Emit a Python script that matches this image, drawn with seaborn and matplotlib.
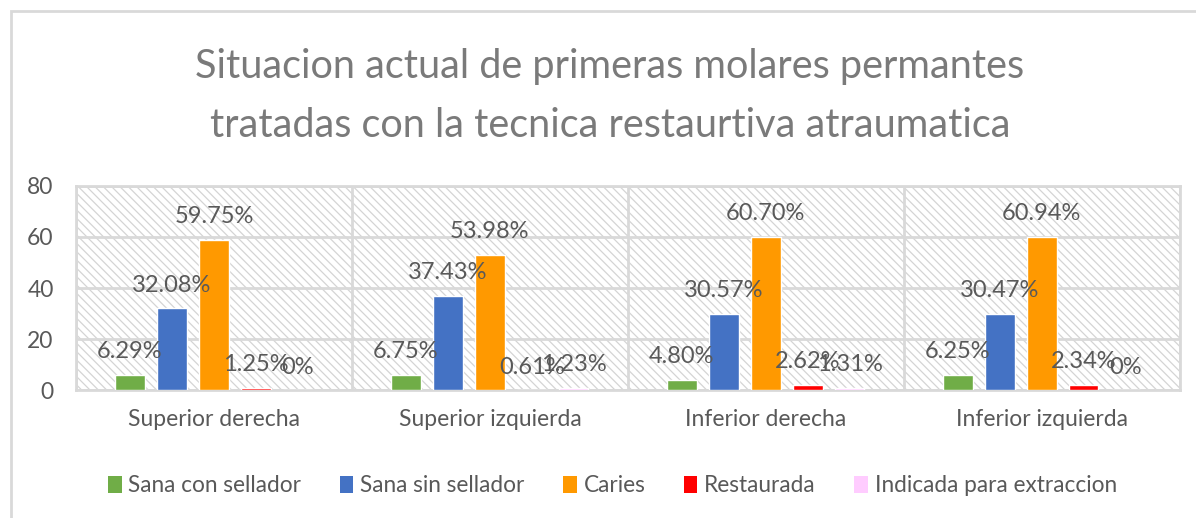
import numpy as np
import pandas as pd
import matplotlib
matplotlib.use("Agg")
import matplotlib.pyplot as plt
from matplotlib.patches import Rectangle, Patch
import seaborn as sns

# -------------------------
# Data
# -------------------------
zonas = ["Superior derecha", "Superior izquierda", "Inferior derecha", "Inferior izquierda"]
estados = ["Sana con sellador", "Sana sin sellador", "Caries", "Restaurada", "Indicada para extraccion"]

# bar heights as drawn
sana_con = [6, 6, 4, 6]
sana_sin = [32, 37, 30, 30]
caries = [59, 53, 60, 60]
restaurada = [1, 0, 2, 2]
extraccion = [0, 1, 1, 0]

# data labels as printed
lbl_sana_con = ["6.29%", "6.75%", "4.80%", "6.25%"]
lbl_sana_sin = ["32.08%", "37.43%", "30.57%", "30.47%"]
lbl_caries = ["59.75%", "53.98%", "60.70%", "60.94%"]
lbl_restaurada = ["1.25%", "0.61%", "2.62%", "2.34%"]
lbl_extraccion = ["0%", "1.23%", "1.31%", "0%"]

colores = ["#70ad47", "#4472c4", "#ff9900", "#ff0000", "#ffccff"]

titulo = ["Situacion actual de primeras molares permantes",
          "tratadas con la tecnica restaurtiva atraumatica"]

valores = [sana_con, sana_sin, caries, restaurada, extraccion]
etiquetas = [lbl_sana_con, lbl_sana_sin, lbl_caries, lbl_restaurada, lbl_extraccion]

df = pd.DataFrame({
    "zona": zonas * len(estados),
    "estado": [e for e in estados for _ in zonas],
    "valor": [v for serie in valores for v in serie],
})

# -------------------------
# Style
# -------------------------
sns.set_style("white")
plt.rcParams["font.family"] = ["Lato", "DejaVu Sans"]
plt.rcParams["hatch.linewidth"] = 0.9
gris_texto = "#595959"
gris_linea = "#d9d9d9"

fig = plt.figure(figsize=(11.96, 5.18), dpi=100)
ax = fig.add_axes([0.0635, 0.247, 0.923, 0.394])

# hatched plot area background
ax.add_patch(Rectangle((0, 0), 1, 1, transform=ax.transAxes, fill=False,
                       hatch="\\\\\\\\", edgecolor="#d4d4d4", lw=0, zorder=0))

sns.barplot(data=df, x="zona", y="valor", hue="estado", hue_order=estados,
            palette=colores, saturation=1, width=0.76, gap=0.3,
            errorbar=None, ax=ax, zorder=3)

for cont, labs in zip(ax.containers, etiquetas):
    ax.bar_label(cont, labels=labs, padding=9, fontsize=17, color=gris_texto)

ax.set_ylim(0, 80)
ax.set_yticks(range(0, 81, 20))
ax.set_xlim(-0.5, len(zonas) - 0.5)
ax.set_xlabel("")
ax.set_ylabel("")

ax.set_xticks(np.arange(-0.5, len(zonas)), minor=True)
ax.grid(True, axis="y", color=gris_linea, lw=2, zorder=1)
ax.grid(True, axis="x", which="minor", color=gris_linea, lw=2, zorder=1)
ax.grid(False, axis="x", which="major")
ax.tick_params(axis="y", length=0, pad=16, labelsize=16.5, labelcolor=gris_texto)
ax.tick_params(axis="x", which="both", length=0, pad=14, labelsize=16.5, labelcolor=gris_texto)
for s in ax.spines.values():
    s.set_color(gris_linea)
    s.set_linewidth(2)

ax.get_legend().remove()
handles = [Patch(facecolor=c, edgecolor="none") for c in colores]
fig.legend(handles, estados, loc="center", bbox_to_anchor=(0.512, 0.062), ncol=5,
           frameon=False, fontsize=16.3, labelcolor=gris_texto, handlelength=0.6,
           handleheight=0.8, handletextpad=0.3, columnspacing=1.7)

# two-line title, baselines placed separately
fig.text(0.51, 0.849, titulo[0], ha="center", va="baseline", fontsize=28.5, color="#7a7a7a")
fig.text(0.51, 0.736, titulo[1], ha="center", va="baseline", fontsize=28.5, color="#7a7a7a")

# chart area border (top and left visible)
fig.add_artist(Rectangle((11 / 1196, -0.1), 1.2, 0.1 + 1 - 11 / 518, transform=fig.transFigure,
                         fill=False, edgecolor=gris_linea, lw=2))

plt.savefig("out.png", dpi=100)
